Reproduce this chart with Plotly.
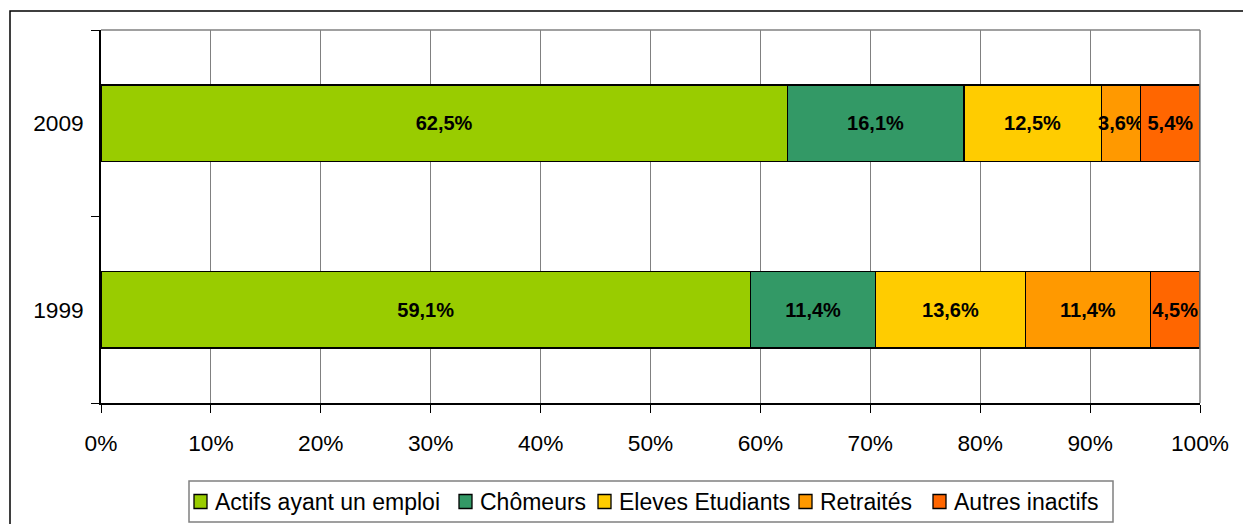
import plotly.graph_objects as go

years = ["1999", "2009"]
series = ["Actifs ayant un emploi", "Chômeurs", "Eleves Etudiants", "Retraités", "Autres inactifs"]
values_1999 = [59.1, 11.4, 13.6, 11.4, 4.5]
values_2009 = [62.5, 16.1, 12.5, 3.6, 5.4]
colors = ["#99CC00", "#339966", "#FFCC00", "#FF9900", "#FF6600"]
x_ticks = [0, 10, 20, 30, 40, 50, 60, 70, 80, 90, 100]

FONT = "Liberation Sans, Arial, sans-serif"

fig = go.Figure()
for i, name in enumerate(series):
    vals = [values_1999[i], values_2009[i]]
    fig.add_trace(go.Bar(
        y=years, x=vals, name=name, orientation="h",
        marker=dict(color=colors[i], line=dict(color="black", width=1.3)),
        text=[f"{v:.1f}%".replace(".", ",") for v in vals],
        textposition="inside", insidetextanchor="middle", textangle=0,
        textfont=dict(family=FONT, size=20, color="black", weight="bold"),
        constraintext="none", cliponaxis=False,
        hoverinfo="skip", showlegend=False,
    ))

# page body has an 8px margin: figure coordinates = screen - 8
OFF = 8
W, H = 1251, 524
px_l, px_r, px_t, px_b = 101 - OFF, 1200 - OFF, 30 - OFF, 403 - OFF
def px2x(px):
    return (px - OFF - px_l) / (px_r - px_l)
def py2y(py):
    return (px_b - (py - OFF)) / (px_b - px_t)

shapes = [
    dict(type="line", xref="paper", yref="paper", x0=0, x1=1, y0=1, y1=1,
         line=dict(color="#808080", width=1.5), layer="above"),
    dict(type="line", xref="paper", yref="paper", x0=1, x1=1, y0=0, y1=1,
         line=dict(color="#808080", width=1.5), layer="above"),
    dict(type="rect", xref="paper", yref="paper",
         x0=px2x(10), x1=px2x(1270), y0=py2y(11), y1=py2y(560),
         line=dict(color="black", width=1.5), layer="below"),
    # legend box
    dict(type="rect", xref="paper", yref="paper",
         x0=px2x(189), x1=px2x(1113), y0=py2y(481), y1=py2y(522),
         line=dict(color="#808080", width=1.5), fillcolor="white", layer="above"),
]
annotations = []

# custom legend layout (screen px positions of each entry's text start)
legend_text_left = [215, 480, 619, 820, 954]
legend_cy = 501.5
for i, name in enumerate(series):
    tx = legend_text_left[i]
    shapes.append(dict(
        type="rect", xref="paper", yref="paper",
        x0=px2x(tx - 21), x1=px2x(tx - 8),
        y0=py2y(legend_cy - 7), y1=py2y(legend_cy + 7),
        fillcolor=colors[i], line=dict(color="black", width=1.3), layer="above",
    ))
    annotations.append(dict(
        xref="paper", yref="paper", x=px2x(tx - 2), y=py2y(legend_cy),
        xanchor="left", yanchor="middle", showarrow=False, text=name,
        font=dict(family=FONT, size=23, color="black"),
    ))

fig.update_layout(
    width=W, height=H,
    barmode="stack", barnorm="percent", bargap=0.59,
    margin=dict(l=px_l, r=W - px_r, t=px_t, b=H - px_b, pad=0),
    paper_bgcolor="white", plot_bgcolor="white",
    font=dict(family=FONT, size=22.7, color="black"),
    uniformtext=dict(minsize=20, mode="show"),
    showlegend=False,
    xaxis=dict(
        range=[0, 100], tickvals=x_ticks, ticktext=[f"{t}%" for t in x_ticks],
        showgrid=True, gridcolor="#808080", gridwidth=1,
        showline=True, linecolor="black", linewidth=1.5,
        ticks="outside", ticklen=8, tickcolor="black", tickwidth=1.2,
        zeroline=False, fixedrange=True, automargin=False,
        ticklabelstandoff=11,
        tickfont=dict(family=FONT, size=22.7),
    ),
    yaxis=dict(
        type="category", categoryorder="array", categoryarray=years,
        range=[-0.5, 1.5],
        showline=True, linecolor="black", linewidth=1.5,
        ticks="outside", tickson="boundaries", ticklen=8, tickcolor="black", tickwidth=1.2,
        showgrid=False, zeroline=False, fixedrange=True, automargin=False,
        ticklabelstandoff=11,
        tickfont=dict(family=FONT, size=22.7),
    ),
    shapes=shapes,
    annotations=annotations,
)

fig.write_html("out.html")
